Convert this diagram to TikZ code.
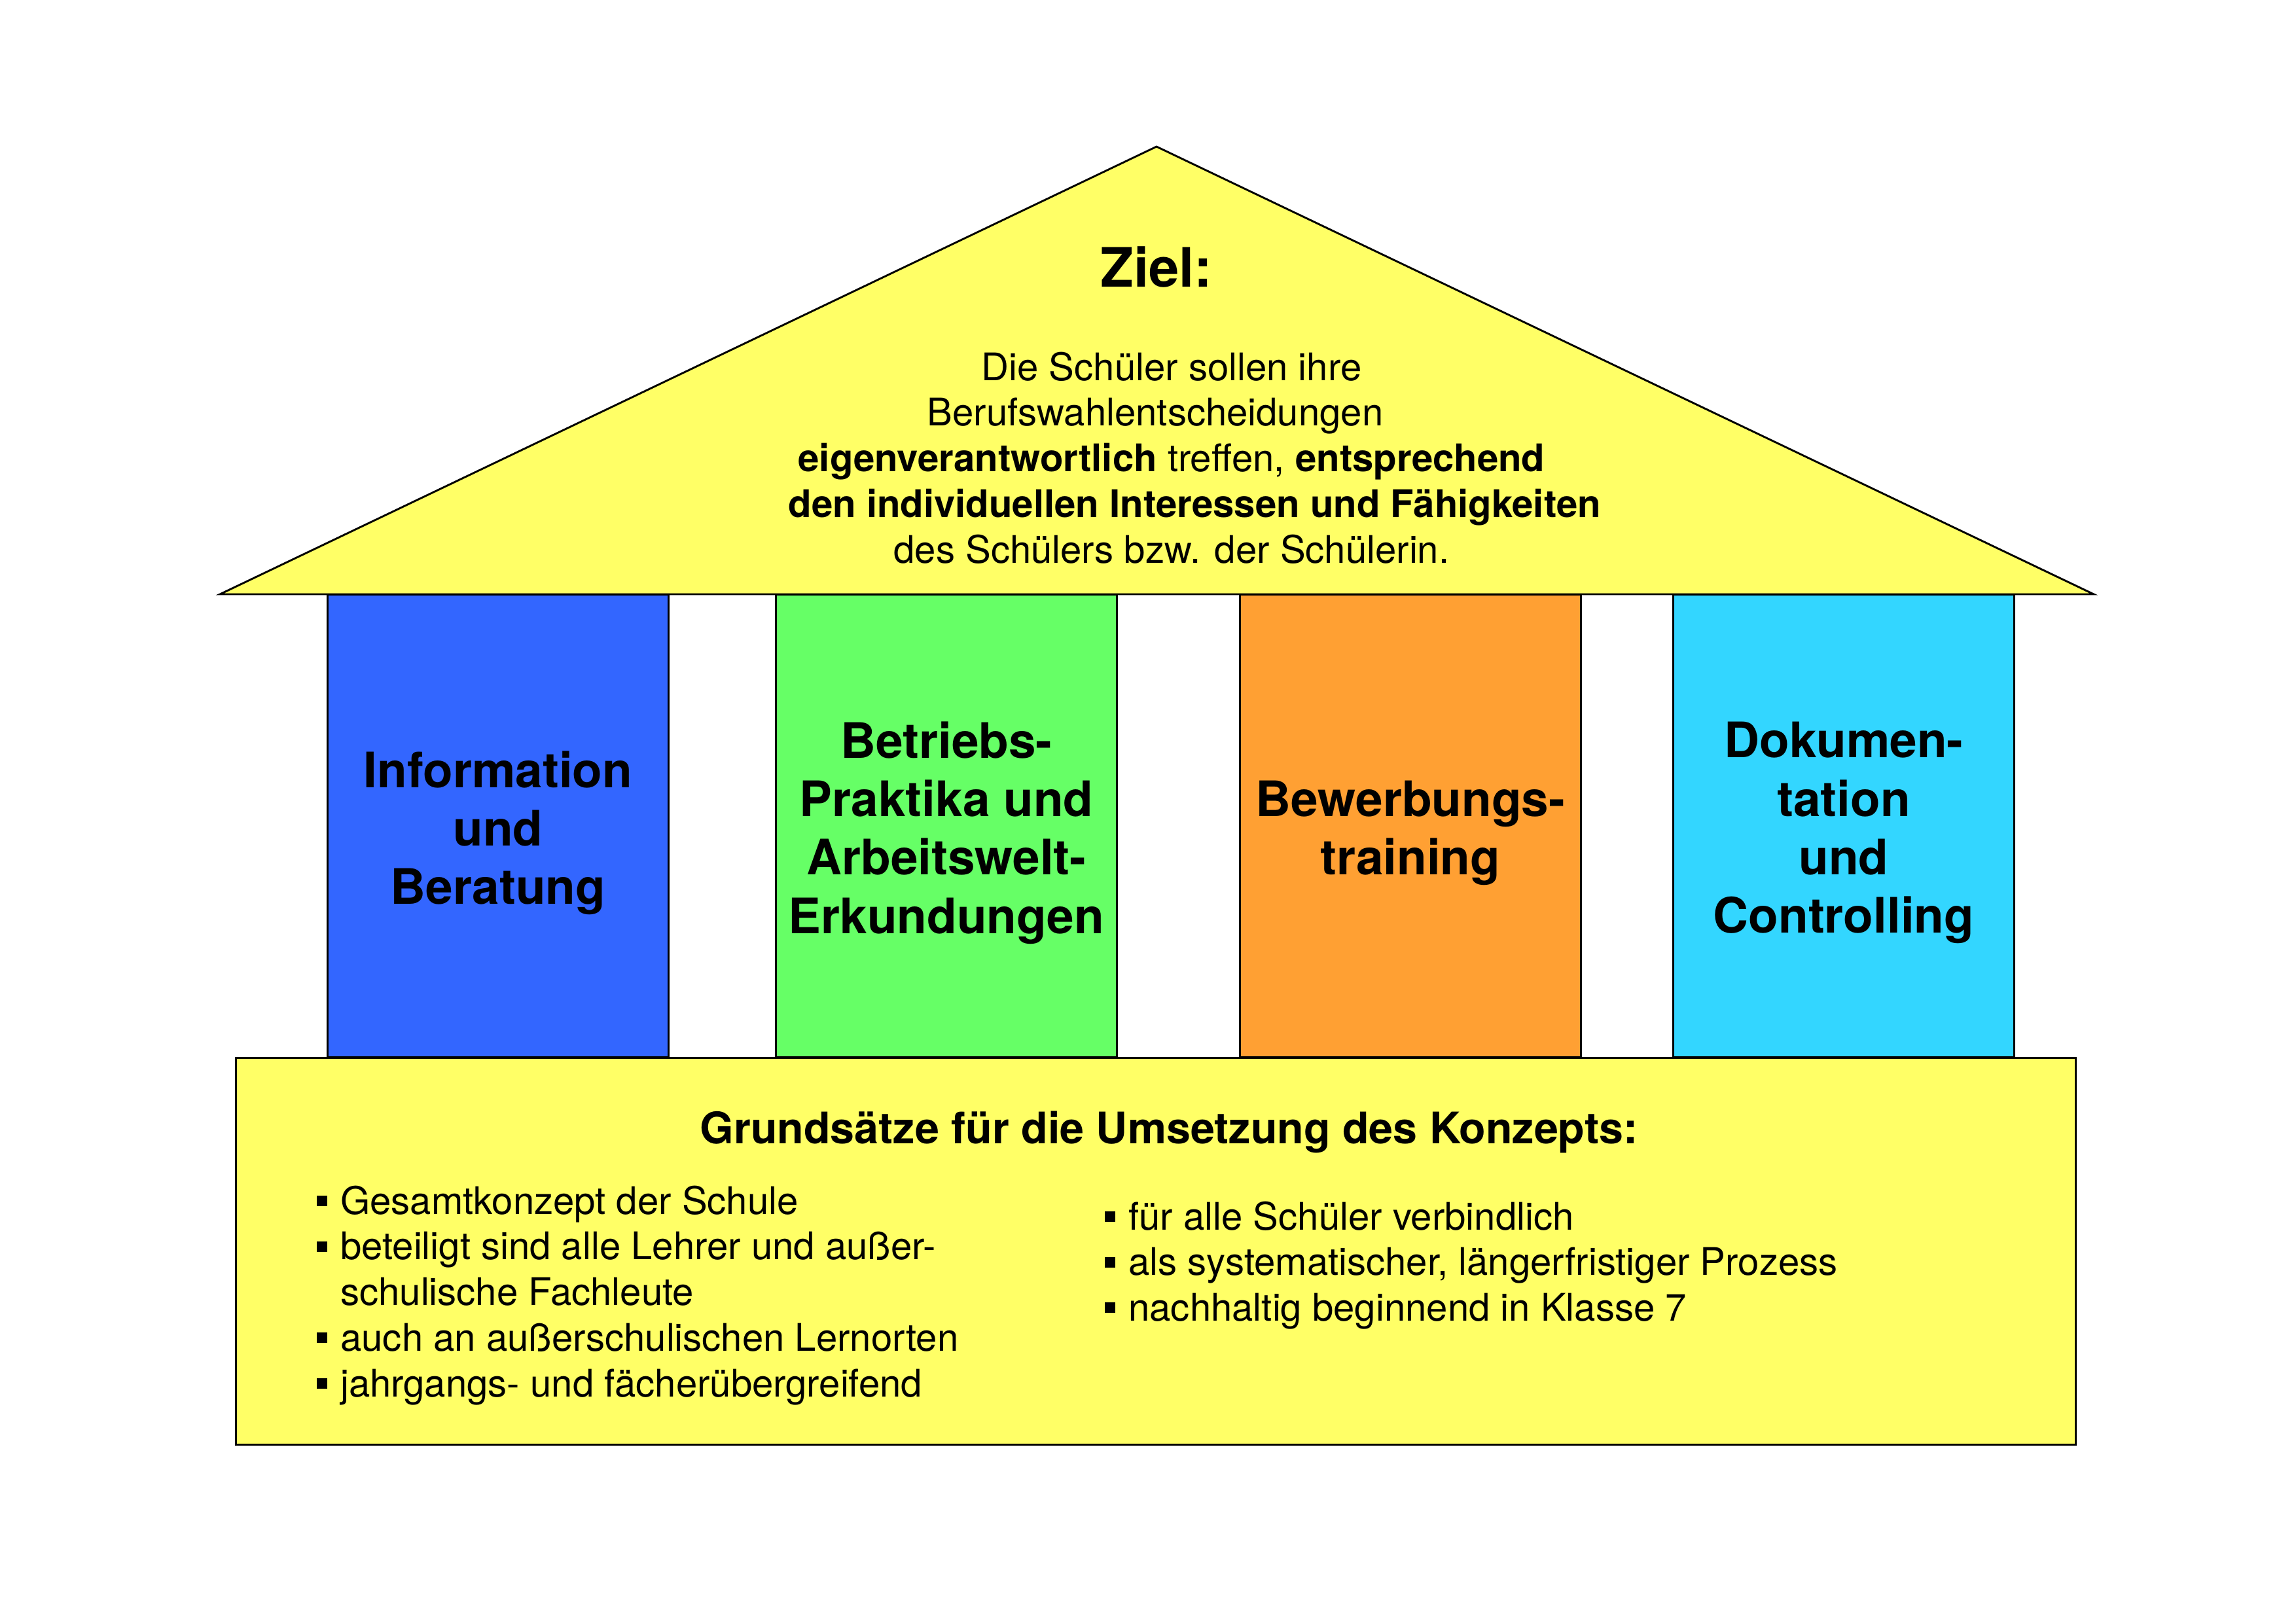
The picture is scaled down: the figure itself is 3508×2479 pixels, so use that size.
\documentclass[tikz,border=0pt]{standalone}
\usepackage{fontspec}
\setmainfont{TeX Gyre Heros}
\usepackage{tikz}
\usetikzlibrary{positioning}

\definecolor{houseyellow}{RGB}{255,255,102}
\definecolor{pillarblue}{RGB}{51,102,255}
\definecolor{pillargreen}{RGB}{102,255,102}
\definecolor{pillarorange}{RGB}{255,160,51}
\definecolor{pillarcyan}{RGB}{51,214,255}

\newcommand{\sqbullet}{\raisebox{3pt}{\rule{3.8pt}{3.8pt}}\hspace{5pt}}

\begin{document}
\begin{tikzpicture}[x=0.0084664cm, y=-0.0084664cm]
	\useasboundingbox (0,0) rectangle (3508,2479);

	\begin{scope}[every node/.style={draw=black, line width=0.7pt, inner sep=0pt,
	              minimum width=4.41cm, minimum height=5.99cm}]
		\node[fill=pillarblue] (info) at (761,1262) {};
		\node[fill=pillargreen] (praktika) at (1446,1262) {};
		\node[fill=pillarorange] (bewerbung) at (2155,1262) {};
		\node[fill=pillarcyan] (doku) at (2817,1262) {};
	\end{scope}

	\begin{scope}[every node/.style={align=center, inner sep=0pt, yshift=-0.09cm,
	              font=\fontsize{18}{21.5}\selectfont\bfseries}]
		\node (infotext) at (info.center) {Information\\und\\Beratung};
		\node (praktikatext) at (praktika.center) {Betriebs-\\Praktika und\\Arbeitswelt-\\Erkundungen};
		\node (bewerbungtext) at (bewerbung.center) {Bewerbungs-\\training};
		\node (dokutext) at (doku.center) {Dokumen-\\tation\\und\\Controlling};
	\end{scope}

	\coordinate (apex) at (1767,224);
	\coordinate (eaveL) at (336,908);
	\coordinate (eaveR) at (3199,908);
	\draw[fill=houseyellow, line width=0.7pt, line join=miter] (apex) -- (eaveL) -- (eaveR) -- cycle;

	\node[draw=black, fill=houseyellow, line width=0.7pt, inner sep=0pt,
	      minimum width=23.81cm, minimum height=5.01cm] (base) at (1766,1912) {};

	\node[anchor=base, font=\fontsize{20}{24}\selectfont\bfseries] (ziel) at (1767,438) {Ziel:};
	\node[anchor=north, align=center, inner sep=0pt, font=\fontsize{14}{16.8}\selectfont] (zieltext) at (1790,537)
		{Die Schüler sollen ihre\\Berufswahlentscheidungen\hspace*{12pt}\null\\\textbf{eigenverantwortlich} treffen, \textbf{entsprechend}\\\hspace*{17pt}\textbf{den individuellen Interessen und Fähigkeiten}\\des Schülers bzw. der Schülerin.};

	\node[anchor=base, font=\fontsize{16}{19}\selectfont\bfseries] (grundsaetze) at (1786,1747) {Grundsätze für die Umsetzung des Konzepts:};

	\begin{scope}[every node/.style={anchor=north west, align=left, inner sep=0pt,
	              font=\fontsize{14}{16.8}\selectfont}]
		\node (listeL) at (483,1811) {\sqbullet Gesamtkonzept der Schule\\
			\sqbullet beteiligt sind alle Lehrer und außer-\\
			\phantom{\sqbullet}schulische Fachleute\\
			\sqbullet auch an außerschulischen Lernorten\\
			\sqbullet jahrgangs- und fächerübergreifend};
		\node (listeR) at (1687,1835) {\sqbullet für alle Schüler verbindlich\\
			\sqbullet als systematischer, längerfristiger Prozess\\
			\sqbullet nachhaltig beginnend in Klasse 7};
	\end{scope}
\end{tikzpicture}
\end{document}
